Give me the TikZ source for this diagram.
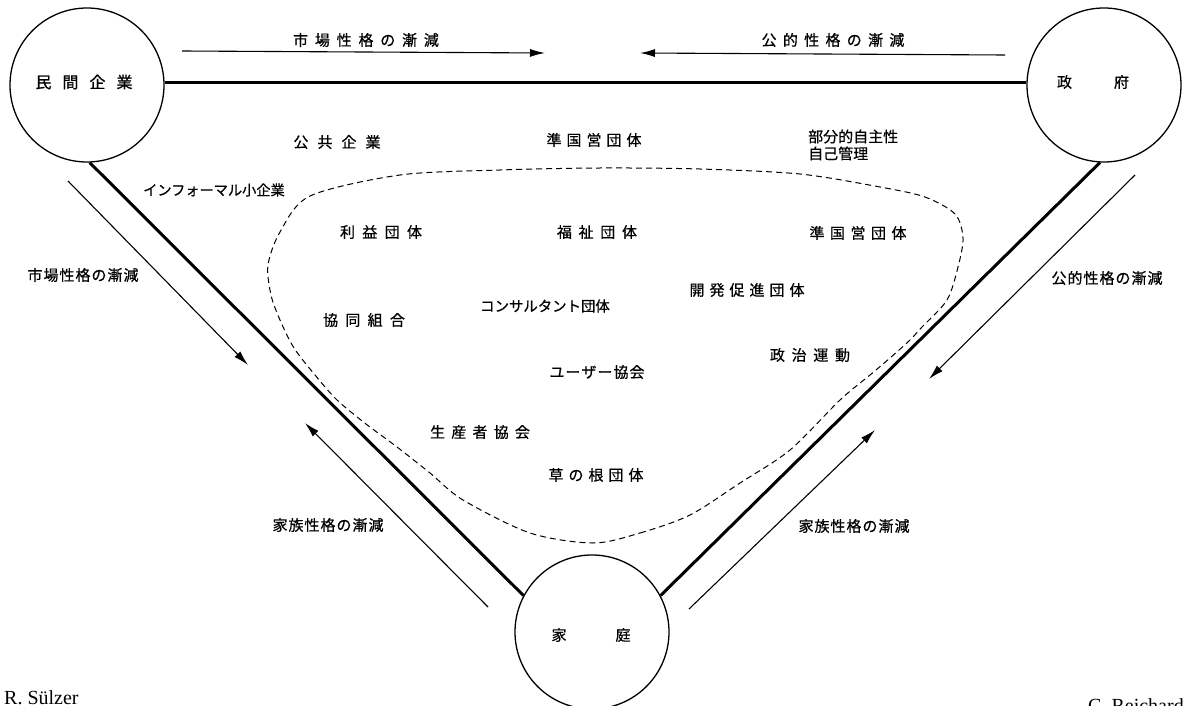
\documentclass[tikz,border=0pt]{standalone}
\usepackage{fontspec}
\setmainfont{Liberation Serif}
\newfontfamily\jpf[FakeBold=0.6]{Noto Sans CJK JP}
\usetikzlibrary{arrows.meta}
\makeatletter
\def\lsp#1#2{\def\lsp@k{#1}\lsp@a#2\relax}
\def\lsp@a#1{#1\lsp@b}
\def\lsp@b#1{\ifx#1\relax\else\kern\lsp@k pt#1\expandafter\lsp@b\fi}
\makeatother
\tikzset{
  jp/.style={font=\jpf\fontsize{15}{17}\selectfont, inner sep=0pt},
  ring/.style={circle, draw, line width=1.3pt, minimum size=154pt, inner sep=0pt},
  bar/.style={line width=3pt},
  flow/.style={line width=1.1pt, -{Latex[length=15pt,width=8pt]}},
  bound/.style={line width=1pt, dash pattern=on 6pt off 4pt},
  author/.style={font=\fontsize{20}{24}\selectfont, inner sep=0pt, anchor=base west}
}
\begin{document}
\begin{tikzpicture}[x=1pt,y=-1pt]
\fill[white] (0,0) rectangle (1184,706);
\clip (0,0) rectangle (1184,706);

% circles
\node[ring] (prv) at (87,85) {};
\node[ring] (gov) at (1104,85) {};
\node[ring] (fam) at (592,632) {};
\node[jp, font=\jpf\fontsize{16}{18}\selectfont] (prvT) at (84,82) {\lsp{11}{民間企業}};
\node[jp] (govT) at (1093,82) {政\kern42pt 府};
\node[jp] (famT) at (591,635) {家\kern49pt 庭};

% thick connections
\draw[bar] (prv.2) -- (gov.178);
\draw[bar] (prv.-88) -- (fam.152);
\draw[bar] (gov.-93) -- (fam.28);

% flow arrows
\coordinate (a1s) at (182,51);  \coordinate (a1e) at (545,53);
\coordinate (a2s) at (1005,55); \coordinate (a2e) at (640,53);
\coordinate (a3s) at (68,181);  \coordinate (a3e) at (248,365);
\coordinate (a4s) at (1135,175);\coordinate (a4e) at (929,379);
\coordinate (a5s) at (488,607); \coordinate (a5e) at (305,423);
\coordinate (a6s) at (689,609); \coordinate (a6e) at (875,430);
\draw[flow] (a1s) -- (a1e);
\draw[flow] (a2s) -- (a2e);
\draw[flow] (a3s) -- (a3e);
\draw[flow] (a4s) -- (a4e);
\draw[flow] (a5s) -- (a5e);
\draw[flow] (a6s) -- (a6e);

% arrow labels
\node[jp] (l1) at (366,40) {\lsp{6.8}{市場性格の漸減}};
\node[jp] (l2) at (833,40) {\lsp{6.3}{公的性格の漸減}};
\node[jp] (l3) at (83,275) {\lsp{1}{市場性格の漸減}};
\node[jp] (l4) at (1107,278) {\lsp{1}{公的性格の漸減}};
\node[jp] (l5) at (328,525) {\lsp{1}{家族性格の漸減}};
\node[jp] (l6) at (854,526) {\lsp{1}{家族性格の漸減}};

% dashed boundary
\draw[bound] plot[smooth cycle, tension=0.5] coordinates {
  (593,543) (640,533) (690,515) (740,483) (790,450) (840,400) (870,375)
  (890,358) (910,340) (922,327) (947,300) (958,267) (963,238) (955,214)
  (925,197) (880,187) (800,174) (700,169) (600,168) (500,170) (400,175)
  (310,196) (280,232) (268,265) (271,295) (280,320) (294,348) (315,375)
  (337,400) (366,424) (397,447) (430,473) (463,500) (530,533)};

% organisations
\node[jp] (o1) at (337,142) {\lsp{9}{公共企業}};
\node[jp] (o2) at (594,140) {\lsp{5}{準国営団体}};
\node[jp, align=left, anchor=west] (o3) at (808,145) {部分的自主性\\自己管理};
\node[jp, font=\jpf\fontsize{14.2}{17}\selectfont] (o4) at (214,190) {インフォーマル小企業};
\node[jp] (o5) at (381,232) {\lsp{7.3}{利益団体}};
\node[jp] (o6) at (597,232) {\lsp{6.7}{福祉団体}};
\node[jp] (o7) at (858,233) {\lsp{5.5}{準国営団体}};
\node[jp] (o8) at (747,290) {\lsp{5}{開発促進団体}};
\node[jp, font=\jpf\fontsize{14.4}{17}\selectfont] (o9) at (545,306) {コンサルタント団体};
\node[jp] (o10) at (364,320) {\lsp{7.3}{協同組合}};
\node[jp] (o11) at (810,355) {\lsp{6.7}{政治運動}};
\node[jp] (o12) at (597,372) {\lsp{1}{ユーザー協会}};
\node[jp] (o13) at (480,432) {\lsp{6.2}{生産者協会}};
\node[jp] (o14) at (596,475) {\lsp{5}{草の根団体}};

% authors
\node[author] (au1) at (4,704) {R. Sülzer};
\node[author] (au2) at (1088,712) {C. Reichard};
\end{tikzpicture}
\end{document}
